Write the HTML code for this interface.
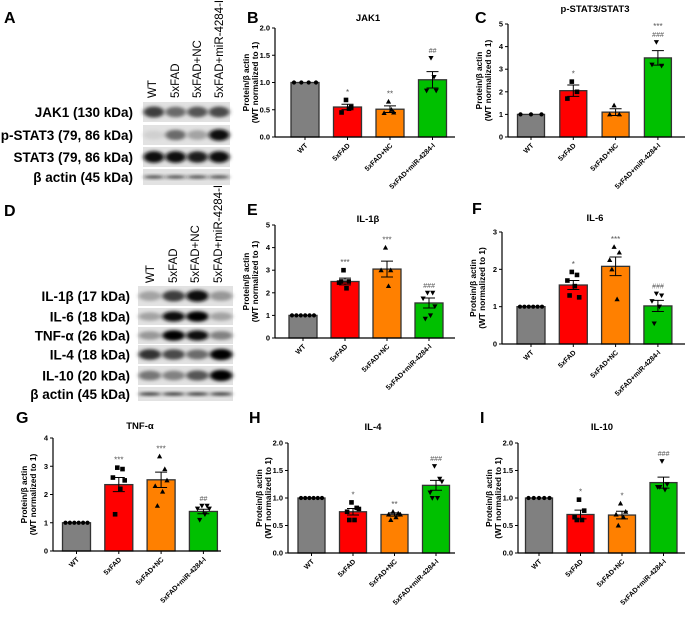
<!DOCTYPE html>
<html><head><meta charset="utf-8">
<style>
html,body{margin:0;padding:0;background:#fff;}
body{width:685px;height:617px;overflow:hidden;position:relative;font-family:"Liberation Sans",Arial,sans-serif;}
svg text{font-family:"Liberation Sans",Arial,sans-serif;}
</style></head>
<body>
<svg id="fig" width="685" height="617" viewBox="0 0 685 617" xmlns="http://www.w3.org/2000/svg">
<defs>
<filter id="blur" x="-20%" y="-100%" width="140%" height="300%"><feGaussianBlur stdDeviation="2.2 1.6"/></filter>
</defs>
</svg>
<script>
// ---------- data ----------
const groups = ["WT","5xFAD","5xFAD+NC","5xFAD+miR-4284-I"];
const colors = ["#808080","#ff0000","#ff8000","#00c000"];

const jak1Means = [1.0,0.55,0.51,1.05];
const jak1Sem = [0,0.05,0.06,0.15];
const jak1Pts = [[1,1,1,1],[0.68,0.55,0.45,0.52],[0.65,0.45,0.44,0.5],[1.45,0.85,0.85,1.1]];
const jak1Sig = ["","*","**","##"];
const jak1Ticks = ["0.0","0.5","1.0","1.5","2.0"];

const stat3Means = [1.0,2.05,1.1,3.5];
const stat3Sem = [0,0.25,0.15,0.32];
const stat3Pts = [[1,1,1],[2.45,2.0,1.7],[1.4,1.0,1.0],[4.2,3.15,3.2]];
const stat3Sig = ["","*","","***\n###"];
const stat3Ticks = ["0","1","2","3","4","5"];

const il1bMeans = [1.0,2.5,3.05,1.55];
const il1bSem = [0,0.15,0.35,0.22];
const il1bPts = [[1,1,1,1,1,1],[3.0,2.5,2.45,2.2,2.5],[4.0,3.0,3.0,2.3],[2.0,2.0,1.75,1.0,0.85,1.4]];
const il1bSig = ["","***","***","###"];
const il1bTicks = ["0","1","2","3","4","5"];

const il6Means = [1.0,1.58,2.08,1.02];
const il6Sem = [0,0.12,0.25,0.15];
const il6Pts = [[1,1,1,1,1,1],[1.93,1.85,1.7,1.55,1.3,1.25],[2.6,2.45,2.25,1.2,2.0],[1.35,1.3,1.15,1.0,0.55]];
const il6Sig = ["","*","***","###"];
const il6Ticks = ["0","1","2","3"];

const tnfMeans = [1.0,2.35,2.52,1.4];
const tnfSem = [0,0.25,0.27,0.08];
const tnfPts = [[1,1,1,1,1,1],[2.95,2.9,2.6,2.2,1.3,2.5],[3.35,2.9,2.3,2.1,1.6,2.5],[1.6,1.6,1.5,1.3,1.1,1.5]];
const tnfSig = ["","***","***","##"];
const tnfTicks = ["0","1","2","3","4"];

const il4Means = [1.0,0.75,0.7,1.23];
const il4Sem = [0,0.06,0.03,0.09];
const il4Pts = [[1,1,1,1,1,1],[0.92,0.82,0.75,0.6,0.6,0.8],[0.75,0.72,0.7,0.65,0.6,0.7],[1.58,1.35,1.1,1.0,1.0,1.3]];
const il4Sig = ["","*","**","###"];
const il4Ticks = ["0.0","0.5","1.0","1.5","2.0"];

const il10Means = [1.0,0.7,0.69,1.28];
const il10Sem = [0,0.08,0.07,0.1];
const il10Pts = [[1,1,1,1,1],[0.97,0.77,0.65,0.6,0.6],[0.9,0.75,0.7,0.65,0.5],[1.67,1.25,1.2,1.15,1.2]];
const il10Sig = ["","*","*","###"];
const il10Ticks = ["0.0","0.5","1.0","1.5","2.0"];

// ---------- helpers ----------
const NS="http://www.w3.org/2000/svg";
const fig=document.getElementById('fig');
function mk(tag,attrs,parent){const e=document.createElementNS(NS,tag);for(const k in attrs)e.setAttribute(k,attrs[k]);(parent||fig).appendChild(e);return e;}
function txt(s,attrs,parent){const e=mk('text',attrs,parent);e.textContent=s;return e;}

function marker(g,shape,x,y){
  let e;
  if(shape===0){e=mk('circle',{cx:x,cy:y,r:2.1,fill:'#000'},g);}
  else if(shape===1){e=mk('rect',{x:x-2.3,y:y-2.3,width:4.6,height:4.6,fill:'#000'},g);}
  else if(shape===2){e=mk('polygon',{points:`${x},${y-2.7} ${x-2.6},${y+2} ${x+2.6},${y+2}`,fill:'#000'},g);}
  else {e=mk('polygon',{points:`${x},${y+2.7} ${x-2.6},${y-2} ${x+2.6},${y-2}`,fill:'#000'},g);}
  
  
}

function chart(cfg){
  const g=mk('g',{});
  
  
  const max=cfg.max;
  const y=v=>cfg.yBot-(v/max)*(cfg.yBot-cfg.yTop);
  const x=i=>cfg.c0+i*cfg.step;
  const L=txt(cfg.letter,{x:cfg.lx,y:cfg.ly,'font-size':16,'font-weight':'bold',fill:'#000'},g);
  
  const T=txt(cfg.title,{x:cfg.tx,y:cfg.ty,'font-size':9.5,'font-weight':'bold','text-anchor':'middle',fill:'#000'},g);
  
  cfg.means.forEach((m,i)=>{
    const r=mk('rect',{x:x(i)-cfg.bw/2,y:y(m),width:cfg.bw,height:cfg.yBot-y(m),fill:colors[i],stroke:'#333',"stroke-width":1.3},g);
    
    
  });
  cfg.pts.forEach((arr,i)=>{
    const n=arr.length;
    arr.forEach((v,j)=>{
      const off= i===0 ? (j-(n-1)/2)*(cfg.bw-6)/(Math.max(n-1,1)) : (j%2===0?-1:1)*(1.5+ (j%3)*2.2);
      marker(g,i,x(i)+off,y(v));
    });
  });
  cfg.means.forEach((m,i)=>{
    const s=cfg.sem[i]; if(!s) return;
    const eb=mk('path',{d:`M${x(i)},${y(m-s)}V${y(m+s)}M${x(i)-6},${y(m+s)}H${x(i)+6}M${x(i)-6},${y(m-s)}H${x(i)+6}`,stroke:'#000','stroke-width':1,fill:'none'},g);
    
  });
  cfg.sig.forEach((s,i)=>{
    if(!s) return;
    const top=Math.max(cfg.means[i]+cfg.sem[i],...cfg.pts[i]);
    const lines=s.split('\n');
    lines.forEach((ln,k)=>{
      const st=txt(ln,{x:x(i),y:y(top)-5-(lines.length-1-k)*8,'font-size':ln.startsWith('#')?7:8,'text-anchor':'middle',fill:'#555','font-style':ln.startsWith('#')?'italic':'normal'},g);
      
    });
  });
  const ya=mk('path',{d:`M${cfg.ax},${cfg.yTop}V${cfg.yBot}`,stroke:'#000','stroke-width':1.2,fill:'none'},g);
  
  const xa=mk('path',{d:`M${cfg.ax},${cfg.yBot}H${cfg.axEnd}`,stroke:'#000','stroke-width':1.2,fill:'none'},g);
  
  cfg.ticks.forEach((t,k)=>{
    const v=k*max/(cfg.ticks.length-1);
    mk('path',{d:`M${cfg.ax-3},${y(v)}H${cfg.ax}`,stroke:'#000','stroke-width':1},g);
    const tl=txt(t,{x:cfg.ax-5,y:y(v)+2.5,'font-size':7.5,'font-weight':'bold','text-anchor':'end',fill:'#000'},g);
    
  });
  groups.forEach((gname,i)=>{
    mk('path',{d:`M${x(i)},${cfg.yBot}V${cfg.yBot+3}`,stroke:'#000','stroke-width':1},g);
    const xl=txt(gname,{x:0,y:0,'font-size':7,'font-weight':'bold','text-anchor':'end',fill:'#000',transform:`translate(${x(i)+3},${cfg.yBot+9}) rotate(-45)`},g);
    
  });
  const mid=(cfg.yTop+cfg.yBot)/2;
  const y1=txt('Protein/β actin',{x:0,y:0,'font-size':8.3,'font-weight':'bold','text-anchor':'middle',fill:'#000',transform:`translate(${cfg.ax-26},${mid}) rotate(-90)`},g);
  
  const y2=txt('(WT normalized to 1)',{x:0,y:0,'font-size':8.3,'font-weight':'bold','text-anchor':'middle',fill:'#000',transform:`translate(${cfg.ax-17},${mid}) rotate(-90)`},g);
  
}

chart({name:'jak1-chart',letter:'B',lx:247,ly:23,title:'JAK1',tx:368,ty:21,ax:275,axEnd:455,yTop:28,yBot:137,max:2,c0:305,step:42.5,bw:28,means:jak1Means,sem:jak1Sem,pts:jak1Pts,sig:jak1Sig,ticks:jak1Ticks});
chart({name:'pstat3-chart',letter:'C',lx:475,ly:23,title:'p-STAT3/STAT3',tx:595,ty:12,ax:508,axEnd:685,yTop:24,yBot:137,max:5,c0:531,step:42.3,bw:27,means:stat3Means,sem:stat3Sem,pts:stat3Pts,sig:stat3Sig,ticks:stat3Ticks});
chart({name:'il1b-chart',letter:'E',lx:247,ly:215,title:'IL-1β',tx:368,ty:222,ax:275,axEnd:455,yTop:225,yBot:338,max:5,c0:303,step:42,bw:28,means:il1bMeans,sem:il1bSem,pts:il1bPts,sig:il1bSig,ticks:il1bTicks});
chart({name:'il6-chart',letter:'F',lx:472,ly:214,title:'IL-6',tx:595,ty:221,ax:502,axEnd:685,yTop:232,yBot:344,max:3,c0:531,step:42.3,bw:28,means:il6Means,sem:il6Sem,pts:il6Pts,sig:il6Sig,ticks:il6Ticks});
chart({name:'tnfa-chart',letter:'G',lx:16,ly:423,title:'TNF-α',tx:140,ty:429,ax:53,axEnd:221,yTop:438,yBot:551,max:4,c0:76.5,step:42.3,bw:28,means:tnfMeans,sem:tnfSem,pts:tnfPts,sig:tnfSig,ticks:tnfTicks});
chart({name:'il4-chart',letter:'H',lx:249,ly:423,title:'IL-4',tx:373,ty:430,ax:288,axEnd:455,yTop:443,yBot:553,max:2,c0:311.5,step:41.5,bw:27,means:il4Means,sem:il4Sem,pts:il4Pts,sig:il4Sig,ticks:il4Ticks});
chart({name:'il10-chart',letter:'I',lx:480,ly:423,title:'IL-10',tx:602,ty:430,ax:518,axEnd:685,yTop:443,yBot:553,max:2,c0:539,step:41.5,bw:27,means:il10Means,sem:il10Sem,pts:il10Pts,sig:il10Sig,ticks:il10Ticks});

// ---------- western blots ----------
function blot(cfg){
  const g=mk('g',{});
  
  
  const L=txt(cfg.letter,{x:4,y:cfg.ly,'font-size':16,'font-weight':'bold',fill:'#000'},g);
  
  groups.forEach((gn,i)=>{
    const t=txt(gn,{x:0,y:0,'font-size':11.5,fill:'#000',transform:`translate(${cfg.cols[i]+4},${cfg.colBottom}) rotate(-90)`},g);
    
  });
  const w=cfg.x1-cfg.x0, lw=w/4;
  cfg.rows.forEach(r=>{
    const bg=mk('rect',{x:cfg.x0,y:r.y0,width:w,height:r.y1-r.y0,fill:'#e2e2e2'},g);
    
    const cy=(r.y0+r.y1)/2;
    r.int.forEach((v,i)=>{
      const c=Math.round(230-v*225);
      const b=mk('ellipse',{cx:cfg.x0+lw*(i+0.5),cy:cy,rx:lw*0.48,ry:r.thin?1.3:(r.y1-r.y0)*0.22+v*1.5,fill:`rgb(${c},${c},${c})`,filter:'url(#blur)'},g);
      
    });
    const lb=txt(r.label,{x:cfg.labelX,y:cy+5,'font-size':13.5,'font-weight':'bold','text-anchor':'end',fill:'#000'},g);
    
  });
}
blot({name:'blot-a',letter:'A',ly:23,x0:143,x1:230,labelX:133,cols:[152,175,197,219],colBottom:98,rows:[
  {label:'JAK1 (130 kDa)',y0:102,y1:122,int:[0.75,0.55,0.65,0.7]},
  {label:'p-STAT3 (79, 86 kDa)',y0:125,y1:145,int:[0.1,0.55,0.3,0.95]},
  {label:'STAT3 (79, 86 kDa)',y0:147,y1:167,int:[0.95,0.95,0.9,0.95]},
  {label:'β actin (45 kDa)',y0:169,y1:185,int:[0.9,0.9,0.9,0.9],thin:true}]});
blot({name:'blot-d',letter:'D',ly:216,x0:138,x1:233,labelX:130,cols:[150,173,195,218],colBottom:283,rows:[
  {label:'IL-1β (17 kDa)',y0:286,y1:306,int:[0.3,0.75,0.95,0.35]},
  {label:'IL-6 (18 kDa)',y0:308,y1:325,int:[0.3,0.95,1.0,0.3]},
  {label:'TNF-α (26 kDa)',y0:327,y1:344,int:[0.35,1.0,0.95,0.45]},
  {label:'IL-4 (18 kDa)',y0:345,y1:364,int:[0.8,0.7,0.55,1.0]},
  {label:'IL-10 (20 kDa)',y0:366,y1:385,int:[0.5,0.45,0.65,1.0]},
  {label:'β actin (45 kDa)',y0:387,y1:401,int:[0.95,0.95,0.95,0.95],thin:true}]});
</script>
</body></html>
